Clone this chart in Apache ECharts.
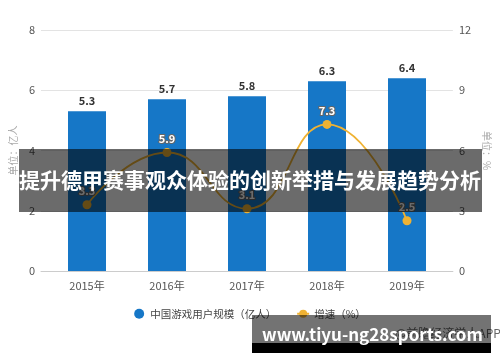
<!DOCTYPE html>
<html><head><meta charset="utf-8">
<script src="https://cdn.jsdelivr.net/npm/echarts@6/dist/echarts.min.js"></script>
<style>html,body{margin:0;padding:0;background:#fff}#c{width:500px;height:362px}</style>
</head><body><div id="c"></div>
<script>
var categories = ['2015年', '2016年', '2017年', '2018年', '2019年'];
var users = [5.3, 5.7, 5.8, 6.3, 6.4];
var growth = [3.3, 5.9, 3.1, 7.3, 2.5];
var leftTicks = {min: 0, max: 8, interval: 2};
var rightTicks = {min: 0, max: 12, interval: 3};
var barName = '中国游戏用户规模（亿人）';
var lineName = '增速（%）';
var bannerText = '提升德甲赛事观众体验的创新举措与发展趋势分析';
var urlText = 'www.tiyu-ng28sports.com';

var font = '"Noto Sans CJK SC", "Noto Sans", sans-serif';
var chart = echarts.init(document.getElementById('c'));
chart.setOption({
  textStyle: {fontFamily: font},
  animation: false,
  grid: [
    {left: 47, right: 53, top: 30, bottom: 91},
    {left: 38, right: 45, top: 30, bottom: 91}
  ],
  xAxis: [
    {type: 'category', gridIndex: 0, data: categories,
     axisLine: {show: false}, axisTick: {show: false},
     axisLabel: {color: '#555', fontSize: 11, margin: 9}},
    {type: 'category', gridIndex: 1, data: categories,
     axisLine: {lineStyle: {color: '#ccc'}}, axisTick: {show: false},
     axisLabel: {show: false}}
  ],
  yAxis: [
    {type: 'value', gridIndex: 0, min: leftTicks.min, max: leftTicks.max, interval: leftTicks.interval, show: false},
    {type: 'value', gridIndex: 0, min: rightTicks.min, max: rightTicks.max, interval: rightTicks.interval, show: false},
    {type: 'value', gridIndex: 1, position: 'left', min: leftTicks.min, max: leftTicks.max, interval: leftTicks.interval,
     name: '单位：亿人', nameLocation: 'middle', nameGap: 22,
     nameTextStyle: {color: '#aaa', fontSize: 10},
     axisLine: {show: false}, axisTick: {show: false},
     axisLabel: {color: '#555', fontSize: 11, margin: 6},
     splitLine: {lineStyle: {color: '#e3e3e3'}}},
    {type: 'value', gridIndex: 1, position: 'right', min: rightTicks.min, max: rightTicks.max, interval: rightTicks.interval,
     name: '单位：%', nameLocation: 'middle', nameGap: 26, nameRotate: -90,
     nameTextStyle: {color: '#aaa', fontSize: 10},
     axisLine: {show: false}, axisTick: {show: false},
     axisLabel: {color: '#555', fontSize: 11, margin: 6},
     splitLine: {show: false}}
  ],
  legend: {
    bottom: 38, left: 'center', itemGap: 20, itemWidth: 12, itemHeight: 10,
    textStyle: {color: '#444', fontSize: 10.5},
    data: [{name: barName, icon: 'circle'}, {name: lineName}]
  },
  series: [
    {name: barName, type: 'bar', xAxisIndex: 0, yAxisIndex: 0, data: users, barWidth: 38,
     itemStyle: {color: '#1677C7'},
     label: {show: true, position: 'top', color: '#333', fontSize: 11, fontWeight: 'bold', distance: 5}},
    {name: lineName, type: 'line', xAxisIndex: 0, yAxisIndex: 1, data: growth, smooth: true,
     symbol: 'circle', symbolSize: 9,
     lineStyle: {color: '#EFB233', width: 1.8}, itemStyle: {color: '#EFB233'},
     label: {show: true, position: 'top', color: '#fff', fontSize: 11, fontWeight: 'bold',
       textBorderColor: '#666', textBorderWidth: 2, distance: 4}}
  ],
  graphic: [
    {type: 'rect', left: 19, top: 149, shape: {width: 463, height: 63}, z: 100,
     style: {fill: 'rgba(0,0,0,0.58)'}},
    {type: 'text', left: 'center', top: 170, z: 101,
     style: {text: bannerText, fill: '#fff', font: 'bold 21px ' + font, textVerticalAlign: 'middle'}},
    {type: 'text', left: 395, top: 327, z: 99,
     style: {text: '@前瞻经济学人APP', fill: '#666', font: '12px ' + font}},
    {type: 'rect', left: 252, top: 315, shape: {width: 239, height: 28}, z: 100,
     style: {fill: 'rgba(0,0,0,0.55)'}},
    {type: 'rect', left: 252, top: 343, shape: {width: 239, height: 10}, z: 100,
     style: {fill: '#000'}},
    {type: 'text', left: 262, top: 326, z: 101,
     style: {text: urlText, fill: '#fff', font: 'bold 17px ' + font}}
  ]
});
</script></body></html>
